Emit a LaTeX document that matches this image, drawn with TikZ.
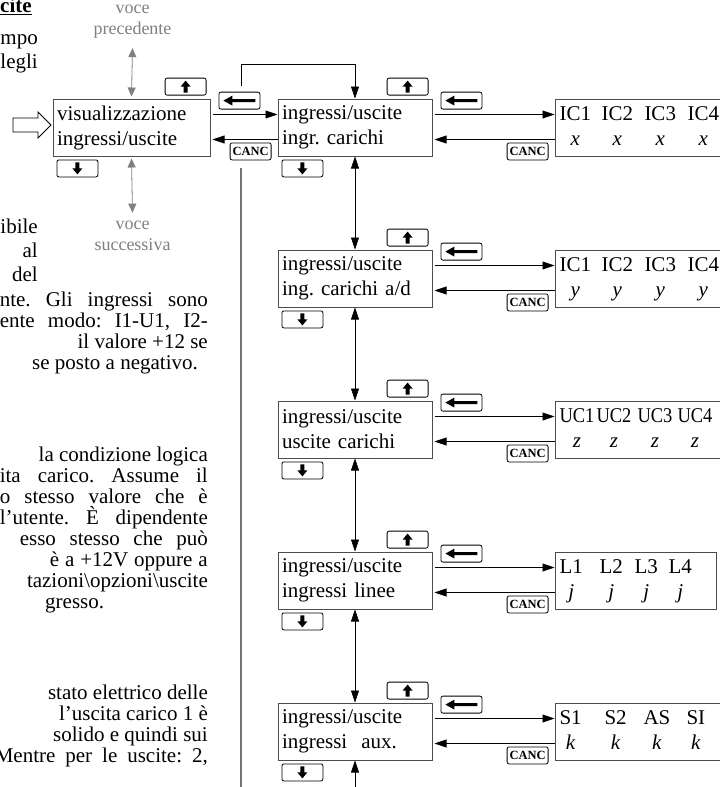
\documentclass[tikz,border=0pt]{standalone}
\usepackage{fontspec}
\setmainfont{Liberation Serif}
\usetikzlibrary{arrows.meta,positioning}
\frenchspacing

% justified line of given width (natural width if it does not fit)
\newlength\jlw
\newcommand\jline[2]{\settowidth{\jlw}{#2}\ifdim\jlw<#1\relax\makebox[#1][s]{#2}\else #2\fi}
% one column of a value display
\newcommand\vcol[3]{\makebox[#1][l]{\begin{tabular}[t]{@{}c@{}}#2\\#3\end{tabular}}}

\begin{document}
\begin{tikzpicture}[x=1pt, y=-1pt,
  menu/.style={draw=black!70, line width=1pt, text width=146pt, inner xsep=4pt, minimum height=57pt, align=left, font=\fontsize{21}{25}\selectfont},
  valbox/.style={draw=black!70, line width=1pt, inner xsep=4.5pt, minimum height=57pt, font=\fontsize{21}{25}\selectfont},
  key/.style={draw, line width=0.8pt, rounded corners=2pt, fill=white, minimum width=41pt, minimum height=17pt, inner sep=0pt},
  upkey/.style={key, anchor=south east, path picture={\fill[black, sharp corners] ([yshift=6pt]path picture bounding box.center) -- ++(-5pt,-6pt) -- ++(3pt,0pt) -- ++(0pt,-6pt) -- ++(4pt,0pt) -- ++(0pt,6pt) -- ++(3pt,0pt) -- cycle;}},
  downkey/.style={key, anchor=north west, path picture={\fill[black, sharp corners] ([yshift=-6pt]path picture bounding box.center) -- ++(-5pt,6pt) -- ++(3pt,0pt) -- ++(0pt,6pt) -- ++(4pt,0pt) -- ++(0pt,-6pt) -- ++(3pt,0pt) -- cycle;}},
  backkey/.style={key, anchor=south west, path picture={\fill[black, sharp corners] ([xshift=-16pt]path picture bounding box.center) -- ++(9pt,5pt) -- ++(0pt,-3.5pt) -- ++(23pt,0pt) -- ++(0pt,-3pt) -- ++(-23pt,0pt) -- ++(0pt,-3.5pt) -- cycle;}},
  canckey/.style={key, anchor=north east, font=\fontsize{12.5}{13}\selectfont\bfseries},
  conn/.style={line width=0.6pt, -{Triangle[length=12pt,width=8pt]}},
  both/.style={line width=0.6pt, {Triangle[length=12pt,width=8pt]}-{Triangle[length=12pt,width=8pt]}},
  grayarr/.style={black!50, line width=0.8pt, {Triangle[length=9pt,width=8pt]}-{Triangle[length=9pt,width=8pt]}},
  note/.style={black!50, align=center, font=\fontsize{18}{21}\selectfont},
  body/.style={font=\fontsize{21}{21}\selectfont, inner sep=0pt}]
\useasboundingbox (0,0) rectangle (720,787);

% text column on the left
\node[body, anchor=base west] (cite) at (0,12.5) {\textbf{\underline{cite}}};
\foreach \y/\txt [count=\i] in {44/mpo, 68/legli, 233/ibile, 257/al, 281/del}
  \node[body, anchor=base east] (n\i) at (38,\y) {\txt};
\foreach \y/\w/\txt [count=\i] in {306/208/{nte. Gli ingressi sono}, 327/208/{ente modo: I1-U1, I2-}, 348/128/{il valore +12 se},
    461/163/{la condizione logica}, 482/208/{ita carico. Assume il}, 503/208/{o stesso valore che è}, 524/208/{l’utente. È dipendente},
    545/188/{esso stesso che può}, 566/158/{è a +12V oppure a}, 587/0/{tazioni\textbackslash opzioni\textbackslash uscite},
    699/148/{stato elettrico delle}, 720/138/{l’uscita carico 1 è}, 741/148/{solido e quindi sui}, 762/213/{Mentre per le uscite: 2,}}
  \node[body, anchor=base east] (t\i) at (208,\y) {\jline{\w pt}{\txt}};
\node[body, anchor=base west] (neg) at (32,369) {se posto a negativo.};
\node[body, anchor=base west] (gre) at (45,608) {gresso.};
\draw[black!55, line width=1.3pt] (241,168) coordinate (lt) -- (241,790) coordinate (lb);

% menu
\node[menu] (ing1) at (355,127.5) {ingressi/uscite\\ingr. carichi};
\node[menu, below=93pt of ing1] (ing2) {ingressi/uscite\\ing. carichi a/d};
\node[menu, below=93pt of ing2] (ing3) {ingressi/uscite\\uscite carichi};
\node[menu, below=93pt of ing3] (ing4) {ingressi/uscite\\ingressi linee};
\node[menu, below=93pt of ing4] (ing5) {ingressi/uscite\\ingressi\ \ aux.};
\node[menu, text width=149pt, left=67pt of ing1] (vis) {visualizzazione\\ingressi/uscite};

\node[valbox, right=122pt of ing1] (val1) {\vcol{42pt}{IC1}{\textit{x}}\vcol{43pt}{IC2}{\textit{x}}\vcol{43pt}{IC3}{\textit{x}}\vcol{43pt}{IC4}{\textit{x}}};
\node[valbox, right=122pt of ing2] (val2) {\vcol{42pt}{IC1}{\textit{y}}\vcol{43pt}{IC2}{\textit{y}}\vcol{43pt}{IC3}{\textit{y}}\vcol{43pt}{IC4}{\textit{y}}};
\node[valbox, right=122pt of ing3] (val3) {\vcol{37pt}{\scalebox{0.88}[1]{UC1}}{\textit{z}}\vcol{41pt}{\scalebox{0.88}[1]{UC2}}{\textit{z}}\vcol{40pt}{\scalebox{0.88}[1]{UC3}}{\textit{z}}\vcol{43pt}{\scalebox{0.88}[1]{UC4}}{\textit{z}}};
\node[valbox, right=122pt of ing4] (val4) {\vcol{40pt}{L1}{\textit{j}}\vcol{35pt}{L2}{\textit{j}}\vcol{34pt}{L3}{\textit{j}}\vcol{43pt}{L4}{\textit{j}}};
\node[valbox, right=122pt of ing5] (val5) {\vcol{45pt}{S1}{\textit{k}}\vcol{39pt}{S2}{\textit{k}}\vcol{43pt}{AS}{\textit{k}}\vcol{43pt}{SI}{\textit{k}}};

% entry arrow and previous / next item
\draw[line width=0.8pt, fill=white] (13,118) -- (38,118) -- (38,112) -- (51,125) -- (38,138) -- (38,132) -- (13,132) -- cycle;
\node[note] (prev) at (132.5,22) {voce\\precedente};
\node[note] (next) at (132.5,236) {voce\\successiva};
\draw[grayarr] ([yshift=-6pt]prev.south) -- ([yshift=2pt]vis.north);
\draw[grayarr] ([yshift=-2pt]vis.south) -- ([yshift=5pt]next.north);

% connectors
\foreach \a/\b in {ing1/ing2, ing2/ing3, ing3/ing4, ing4/ing5}
  \draw[both] (\a) -- (\b);
\draw[conn] (355,800) coordinate (btm) -- (ing5.south);
\draw[conn] (241,86) coordinate (lp) |- ([yshift=34pt]ing1.north) -- (ing1.north);
\foreach \a/\c in {vis/ing1, ing1/val1, ing2/val2, ing3/val3, ing4/val4, ing5/val5} {
  \draw[conn, shorten <=2pt] ([yshift=13pt]\a.east) -- ([yshift=13pt]\c.west);
  \draw[conn, shorten >=2pt] ([yshift=-12pt]\c.west) -- ([yshift=-12pt]\a.east);
  \node[backkey] (bk-\a) at ([xshift=8pt,yshift=-11pt]\a.north east) {};
  \node[canckey] (cc-\a) at ([xshift=-6pt,yshift=-44pt]\c.north west) {CANC};
}

% keys
\foreach \b in {vis, ing1, ing2, ing3, ing4, ing5} {
  \node[upkey] (up-\b) at ([xshift=-4pt,yshift=3pt]\b.north east) {};
  \node[downkey] (dn-\b) at ([xshift=4pt,yshift=-3pt]\b.south west) {};
}
\end{tikzpicture}
\end{document}
